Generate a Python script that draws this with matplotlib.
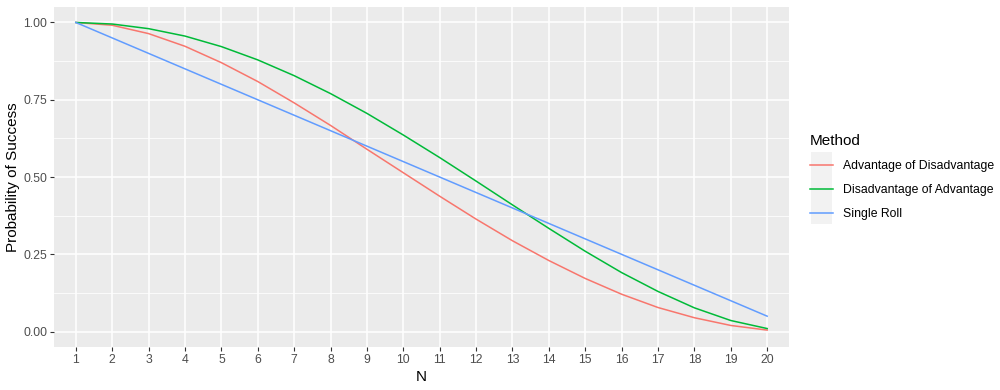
import matplotlib
matplotlib.use("Agg")
import matplotlib.pyplot as plt
from matplotlib.lines import Line2D
from matplotlib.patches import Rectangle

plt.rcParams["font.family"] = ["Liberation Sans", "DejaVu Sans"]

# N = target number on a d20
n_values = list(range(1, 21))

# probability of success
adv_of_disadv = [1.000, 0.991, 0.964, 0.923, 0.870, 0.809, 0.740, 0.667, 0.590, 0.514,
                 0.438, 0.364, 0.294, 0.230, 0.172, 0.121, 0.078, 0.045, 0.020, 0.005]
disadv_of_adv = [1.000, 0.995, 0.980, 0.956, 0.922, 0.879, 0.828, 0.770, 0.706, 0.636,
                 0.563, 0.487, 0.410, 0.334, 0.260, 0.191, 0.130, 0.077, 0.036, 0.010]
single_roll = [1.00, 0.95, 0.90, 0.85, 0.80, 0.75, 0.70, 0.65, 0.60, 0.55,
               0.50, 0.45, 0.40, 0.35, 0.30, 0.25, 0.20, 0.15, 0.10, 0.05]

methods = ["Advantage of Disadvantage", "Disadvantage of Advantage", "Single Roll"]
colors = ["#F8766D", "#00BA38", "#619CFF"]
series = [adv_of_disadv, disadv_of_adv, single_roll]

fig = plt.figure(figsize=(10, 3.9), dpi=100)
ax = fig.add_axes([0.054, 0.110, 0.735, 0.872])
ax.set_facecolor("#EBEBEB")

for vals, col, name in zip(series, colors, methods):
    ax.plot(n_values, vals, color=col, linewidth=1.1, label=name, zorder=3)

# discrete-style x expansion (0.6 units each side)
ax.set_xlim(0.4, 20.6)
ax.set_ylim(-0.05, 1.05)
ax.set_xticks(n_values)
ax.set_xticklabels([str(n) for n in n_values])
ax.set_yticks([0, 0.25, 0.5, 0.75, 1.0])
ax.set_yticklabels(["0.00", "0.25", "0.50", "0.75", "1.00"])
ax.set_yticks([0.125, 0.375, 0.625, 0.875], minor=True)

ax.grid(which="major", color="white", linewidth=1.1, zorder=1)
ax.grid(which="minor", axis="y", color="white", linewidth=0.55, zorder=1)
ax.set_axisbelow(True)
for s in ax.spines.values():
    s.set_visible(False)

ax.tick_params(which="major", length=3, color="#333333", labelcolor="#4D4D4D",
               labelsize=8.8, pad=2)
ax.tick_params(which="minor", length=0)

ax.set_xlabel("N", fontsize=11, color="black", labelpad=3)
ax.set_ylabel("Probability of Success", fontsize=11, color="black", labelpad=2)

# grey key background like ggplot legend keys
fig.patches.append(Rectangle((0.811, 0.426), 0.021, 0.184, transform=fig.transFigure,
                             facecolor="#F2F2F2", edgecolor="none", zorder=0))

handles = [Line2D([0], [0], color=c, linewidth=1.1) for c in colors]
leg = fig.legend(handles, methods, title="Method", loc="upper left",
                 bbox_to_anchor=(0.799, 0.685), frameon=False, fontsize=8.8,
                 title_fontsize=11, handlelength=1.9, handletextpad=0.8,
                 labelspacing=0.98)
leg._legend_box.align = "left"

fig.savefig("out.png", dpi=100, facecolor="white")
